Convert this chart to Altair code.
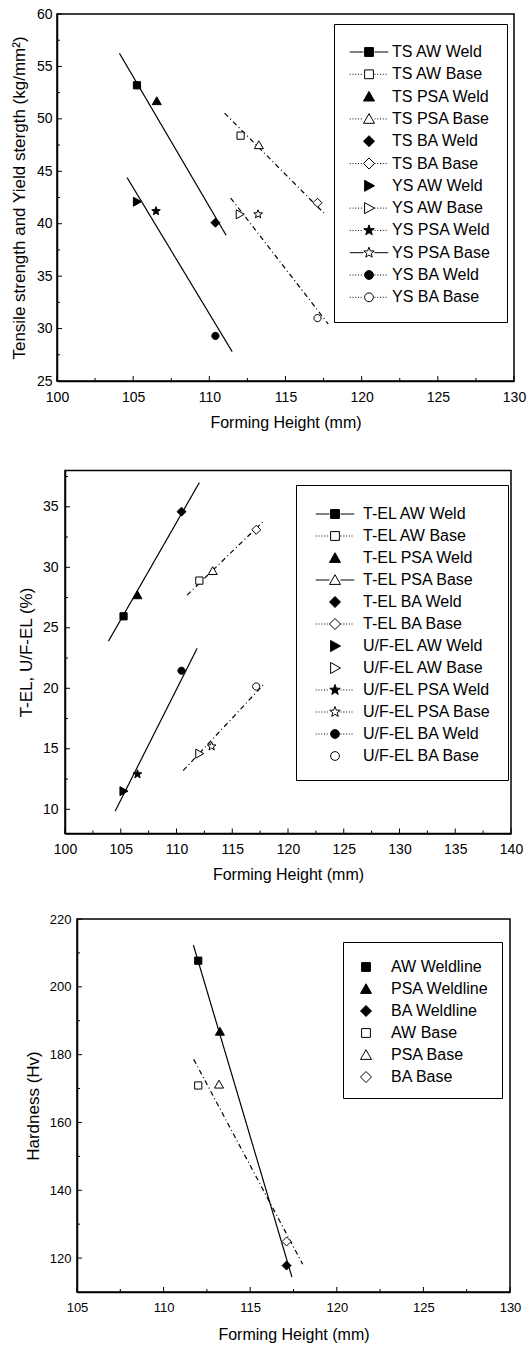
import math
import altair as alt
import pandas as pd

FONT = "Liberation Sans"

# ---------------- Panel 1: tensile / yield strength ----------------
p1_series = ["TS AW Weld", "TS AW Base", "TS PSA Weld", "TS PSA Base", "TS BA Weld", "TS BA Base",
             "YS AW Weld", "YS AW Base", "YS PSA Weld", "YS PSA Base", "YS BA Weld", "YS BA Base"]
p1_x = [105.25, 112.05, 106.55, 113.25, 110.4, 117.1, 105.25, 112.0, 106.5, 113.2, 110.4, 117.1]
p1_y = [53.2, 48.4, 51.7, 47.5, 40.1, 42.0, 42.1, 40.9, 41.2, 40.9, 29.3, 31.0]
p1_kind = ["square", "square", "triangle", "triangle", "diamond", "diamond",
           "tri_right", "tri_right", "star", "star", "circle", "circle"]
p1_filled = [True, False] * 6
p1_sample = ["solid", "dot", "none", "dot", "none", "dot", "none", "dot", "dot", "solid", "dot", "dot"]
p1_fit_name = ["TS Weld fit", "YS Weld fit", "TS Base fit", "YS Base fit"]
p1_fit_style = ["solid", "solid", "dashdot", "dashdot"]
p1_fit_x0 = [104.1, 104.6, 111.0, 111.4]
p1_fit_x1 = [111.1, 111.5, 117.6, 117.8]
p1_fit_y0 = [56.25, 44.4, 50.55, 42.45]
p1_fit_y1 = [38.9, 27.8, 40.9, 30.45]
p1_xticks = [100, 105, 110, 115, 120, 125, 130]
p1_xminor = [102.5, 107.5, 112.5, 117.5, 122.5, 127.5]
p1_yticks = [25, 30, 35, 40, 45, 50, 55, 60]
p1_yminor = [27.5, 32.5, 37.5, 42.5, 47.5, 52.5, 57.5]

# ---------------- Panel 2: elongation ----------------
p2_series = ["T-EL AW Weld", "T-EL AW Base", "T-EL PSA Weld", "T-EL PSA Base", "T-EL BA Weld", "T-EL BA Base",
             "U/F-EL AW Weld", "U/F-EL AW Base", "U/F-EL PSA Weld", "U/F-EL PSA Base", "U/F-EL BA Weld",
             "U/F-EL BA Base"]
p2_x = [105.25, 112.05, 106.5, 113.25, 110.45, 117.15, 105.25, 112.05, 106.5, 113.15, 110.45, 117.15]
p2_y = [25.95, 28.9, 27.7, 29.7, 34.6, 33.1, 11.5, 14.6, 12.9, 15.2, 21.45, 20.15]
p2_kind = p1_kind
p2_filled = [True, False] * 6
p2_sample = ["solid", "dot", "none", "solid", "none", "dot", "none", "none", "dot", "dot", "dot", "none"]
p2_fit_name = ["T-EL Weld fit", "U/F-EL Weld fit", "T-EL Base fit", "U/F-EL Base fit"]
p2_fit_style = ["solid", "solid", "dashdot", "dashdot"]
p2_fit_x0 = [103.9, 104.5, 110.95, 110.6]
p2_fit_x1 = [112.05, 111.85, 117.9, 117.9]
p2_fit_y0 = [23.9, 9.85, 27.7, 13.2]
p2_fit_y1 = [37.0, 23.3, 33.9, 20.4]
p2_xticks = [100, 105, 110, 115, 120, 125, 130, 135, 140]
p2_xminor = [102.5, 107.5, 112.5, 117.5, 122.5, 127.5, 132.5, 137.5]
p2_yticks = [10, 15, 20, 25, 30, 35]
p2_yminor = [12.5, 17.5, 22.5, 27.5, 32.5, 37.5]

# ---------------- Panel 3: hardness ----------------
p3_series = ["AW Weldline", "PSA Weldline", "BA Weldline", "AW Base", "PSA Base", "BA Base"]
p3_x = [112.0, 113.25, 117.1, 112.0, 113.2, 117.1]
p3_y = [207.7, 186.8, 117.8, 170.9, 171.2, 124.9]
p3_kind = ["square", "triangle", "diamond", "square", "triangle", "diamond"]
p3_filled = [True, True, True, False, False, False]
p3_sample = ["none"] * 6
p3_fit_name = ["Weldline fit", "Base fit"]
p3_fit_style = ["solid", "dashdot"]
p3_fit_x0 = [111.72, 111.74]
p3_fit_x1 = [117.41, 118.03]
p3_fit_y0 = [212.3, 178.6]
p3_fit_y1 = [114.4, 118.2]
p3_xticks = [105, 110, 115, 120, 125, 130]
p3_xminor = [107.5, 112.5, 117.5, 122.5, 127.5]
p3_yticks = [120, 140, 160, 180, 200, 220]
p3_yminor = [130, 150, 170, 190, 210]

MAJOR_LEN = 5
MINOR_LEN = 3


# ---------------- marker shapes (unit box -1..1) ----------------
def star_path(r_out=1.0, r_in=0.42):
    pts = []
    for k in range(10):
        a = math.radians(-90 + 36 * k)
        r = r_out if k % 2 == 0 else r_in
        pts.append(f"{r * math.cos(a):.3f},{r * math.sin(a):.3f}")
    return "M" + "L".join(pts) + "Z"


SHAPES = {
    "square": "M-0.8,-0.8H0.8V0.8H-0.8Z",
    "triangle": "M0,-0.95L1,0.8H-1Z",
    "diamond": "M0,-1L1,0L0,1L-1,0Z",
    "tri_right": "M-0.8,-1L1,0L-0.8,1Z",
    "star": star_path(),
    "circle": "M0.8,0A0.8,0.8,0,1,1,-0.8,0A0.8,0.8,0,1,1,0.8,0Z",
}


def sample_path(style, half=3.5, gap=1.0, on=0.18, period=0.5):
    if style == "solid":
        return f"M{-half},0H{-gap}M{gap},0H{half}"
    if style == "dot":
        segs = []
        x = -half
        while x + on <= -gap:
            segs.append(f"M{x:.2f},0H{x + on:.2f}")
            x += period
        x = gap
        while x + on <= half:
            segs.append(f"M{x:.2f},0H{x + on:.2f}")
            x += period
        return "".join(segs)
    return ""


def build_panel(series, xs, ys, kinds, filled, samples,
                fit_name, fit_style, fx0, fx1, fy0, fy1,
                xdom, ydom, xmajor, xminor, ymajor, yminor,
                width, height, ytitle, ytitle_x, ylabel_pad, yext, xext, xtitle_y, label_size,
                leg_x, leg_y, leg_pad, sym_off, lab_off, leg_top, row_pad):
    pts = pd.DataFrame({"x": xs, "y": ys, "series": series})
    rows = []
    for n, s, a, b, c, d in zip(fit_name, fit_style, fx0, fx1, fy0, fy1):
        rows.append({"fit": n, "style": s, "x": a, "y": c})
        rows.append({"fit": n, "style": s, "x": b, "y": d})
    fits = pd.DataFrame(rows)

    xsc = alt.Scale(domain=xdom, nice=False, zero=False)
    ysc = alt.Scale(domain=ydom, nice=False, zero=False)
    mpaths = [SHAPES[k] for k in kinds]
    lpaths = [sample_path(s) + SHAPES[k] for k, s in zip(kinds, samples)]
    fills = ["black" if f else "white" for f in filled]

    main_x = alt.Axis(orient="bottom", values=xmajor, format="d", ticks=False, tickSize=0, grid=False,
                      domain=True, domainColor="black", domainWidth=1.5,
                      labelFont=FONT, labelFontSize=label_size, labelColor="black", labelPadding=9,
                      labelFlush=False, labelOverlap=False,
                      title="Forming Height (mm)", titleFont=FONT, titleFontSize=16, titleFontWeight="normal",
                      titleColor="black", titleX=width / 2, titleY=xtitle_y, titleAlign="center",
                      titleBaseline="alphabetic", titleAngle=0, minExtent=xext, maxExtent=xext)
    main_y = alt.Axis(orient="left", values=ymajor, format="d", ticks=False, tickSize=0, grid=False,
                      domain=True, domainColor="black", domainWidth=1.5,
                      labelFont=FONT, labelFontSize=label_size, labelColor="black", labelPadding=ylabel_pad,
                      labelFlush=False, labelOverlap=False,
                      title=ytitle, titleFont=FONT, titleFontSize=17, titleFontWeight="normal",
                      titleColor="black", titleX=ytitle_x, titleY=height / 2, titleAngle=270,
                      titleAlign="center", titleBaseline="alphabetic", minExtent=yext, maxExtent=yext)

    def X(field):
        return alt.X(field, scale=xsc, axis=main_x)

    def Y(field):
        return alt.Y(field, scale=ysc, axis=main_y)

    lines = alt.Chart(fits).mark_line(color="black", strokeWidth=1.2).encode(
        x=X("x:Q"), y=Y("y:Q"),
        detail="fit:N",
        strokeDash=alt.StrokeDash("style:N",
                                  scale=alt.Scale(domain=["solid", "dashdot"], range=[[1, 0], [5, 3, 1, 3]]),
                                  legend=None),
    )

    # inward axis ticks (major and minor), placed through the panel's scales
    def xticks(vals, ln):
        return alt.Chart(pd.DataFrame({"v": vals})).mark_rule(color="black", strokeWidth=1).encode(
            x=X("v:Q"), y=alt.value(height - ln), y2=alt.value(height))

    def yticks(vals, ln):
        return alt.Chart(pd.DataFrame({"v": vals})).mark_rule(color="black", strokeWidth=1).encode(
            y=Y("v:Q"), x=alt.value(0), x2=alt.value(ln))

    points = alt.Chart(pts).mark_point(stroke="black", strokeWidth=1, opacity=1, size=81).encode(
        x=X("x:Q"), y=Y("y:Q"),
        shape=alt.Shape("series:N", scale=alt.Scale(domain=series, range=mpaths), legend=None),
        fill=alt.Fill("series:N", scale=alt.Scale(domain=series, range=fills), legend=None),
    )
    leg = alt.Legend(title=" ", titleFontSize=1, titlePadding=leg_top - 1, orient="none",
                     legendX=leg_x, legendY=leg_y, padding=leg_pad, strokeColor="black", fillColor="white",
                     labelFont=FONT, labelFontSize=16, labelColor="black", labelLimit=400,
                     symbolSize=121, symbolStrokeWidth=1, symbolStrokeColor="black", symbolOpacity=1,
                     symbolOffset=sym_off, labelOffset=lab_off, rowPadding=row_pad)
    legend_layer = alt.Chart(pts).transform_filter("false").mark_point(
        stroke="black", strokeWidth=1, opacity=1).encode(
        x=X("x:Q"), y=Y("y:Q"),
        shape=alt.Shape("series:N", scale=alt.Scale(domain=series, range=lpaths), legend=leg),
        fill=alt.Fill("series:N", scale=alt.Scale(domain=series, range=fills), legend=leg),
        stroke=alt.Stroke("series:N", scale=alt.Scale(domain=series, range=["black"] * len(series)),
                          legend=leg),
    )
    return alt.layer(
        lines,
        xticks(xmajor, MAJOR_LEN), xticks(xminor, MINOR_LEN),
        yticks(ymajor, MAJOR_LEN), yticks(yminor, MINOR_LEN),
        points, legend_layer,
    ).resolve_scale(
        shape="independent", fill="independent", stroke="independent").properties(
        width=width, height=height,
        view=alt.ViewBackground(stroke="black", strokeWidth=1.5, fill="white"))


def spacer(w):
    return alt.Chart(alt.Data(values=[{"v": 0}])).mark_point(opacity=0).properties(
        width=w, height=10, view=alt.ViewBackground(fill="white", stroke="white", strokeWidth=0))


panel1 = build_panel(p1_series, p1_x, p1_y, p1_kind, p1_filled, p1_sample,
                     p1_fit_name, p1_fit_style, p1_fit_x0, p1_fit_x1, p1_fit_y0, p1_fit_y1,
                     [100, 130], [25, 60], p1_xticks, p1_xminor, p1_yticks, p1_yminor,
                     457, 367, "Tensile strength and Yield stergth (kg/mm²)", -32.8, 5, 50, 62, 46, 14,
                     277, 10, 16, 11, 15, 4, 6.3)
panel2 = build_panel(p2_series, p2_x, p2_y, p2_kind, p2_filled, p2_sample,
                     p2_fit_name, p2_fit_style, p2_fit_x0, p2_fit_x1, p2_fit_y0, p2_fit_y1,
                     [100, 140], [8, 38], p2_xticks, p2_xminor, p2_yticks, p2_yminor,
                     446, 363, "T-EL, U/F-EL (%)", -33.5, 7, 50, 52, 46, 14,
                     231, 14.5, 16, 15, 20, 5, 6)
panel3 = build_panel(p3_series, p3_x, p3_y, p3_kind, p3_filled, p3_sample,
                     p3_fit_name, p3_fit_style, p3_fit_x0, p3_fit_x1, p3_fit_y0, p3_fit_y1,
                     [105, 130], [110, 220], p3_xticks, p3_xminor, p3_yticks, p3_yminor,
                     433, 373, "Hardness (Hv)", -38.8, 6, 56, 54, 47, 13,
                     266, 23, 13, 2, 17, 4, 6)

row1 = alt.hconcat(spacer(2), panel1, spacing=0)
row2 = alt.hconcat(spacer(12), panel2, spacing=0)
row3 = alt.hconcat(spacer(18), panel3, spacing=0)

chart = alt.vconcat(row1, row2, row3, spacing=25.5).properties(
    padding={"left": 0, "top": 6, "right": 0, "bottom": 0}
).configure(background="white")

chart.save("out.html", embed_options={"renderer": "svg", "actions": False})
